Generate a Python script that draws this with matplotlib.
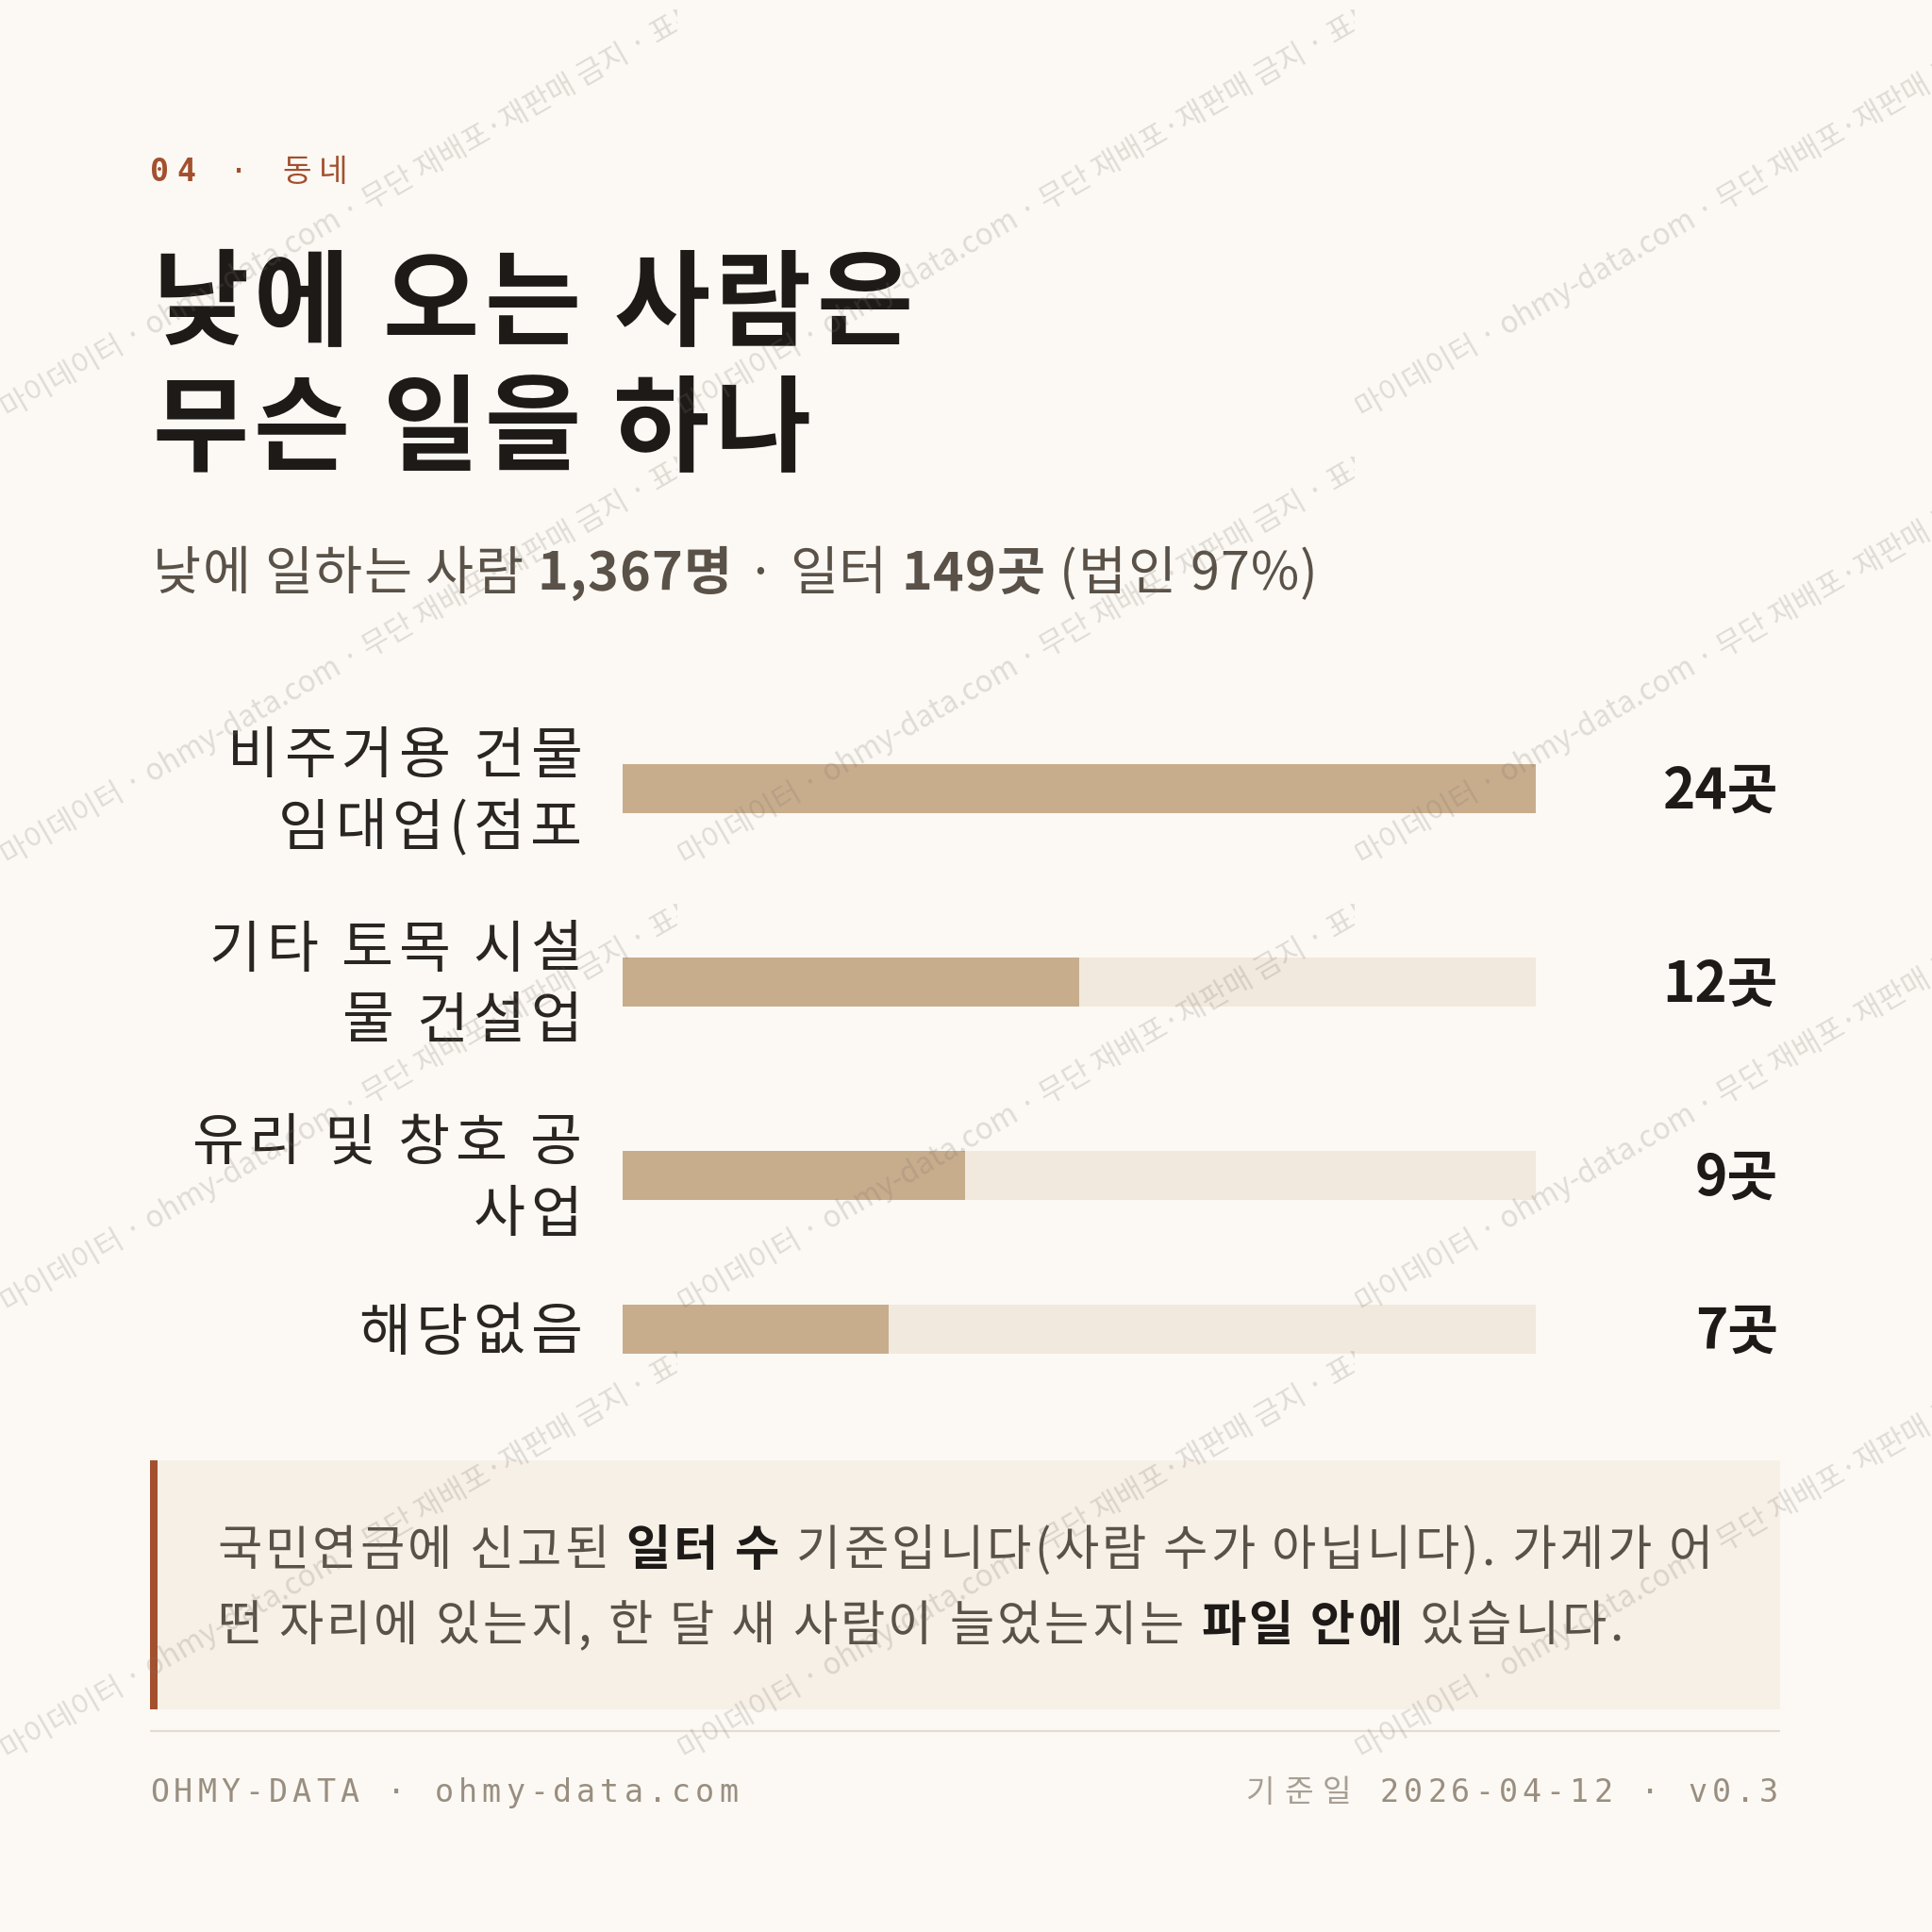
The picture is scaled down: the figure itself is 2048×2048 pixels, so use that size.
import matplotlib
matplotlib.use("Agg")
import matplotlib.pyplot as plt
from matplotlib.patches import Rectangle

# ---------------- data ----------------
categories = ["비주거용 건물\n임대업(점포", "기타 토목 시설\n물 건설업", "유리 및 창호 공\n사업", "해당없음"]
values = [24, 12, 9, 7]
unit = "곳"
kicker_num = "04"
kicker_sep = " · "
kicker_sec = "동네"
title_lines = ["낮에 오는 사람은", "무슨 일을 하나"]
subtitle_runs = [("낮에 일하는 사람 ", False), ("1,367명", True), (" · 일터 ", False),
                 ("149곳", True), (" (법인 97%)", False)]
note_lines = [[("국민연금에 신고된 ", False), ("일터 수", True),
               (" 기준입니다(사람 수가 아닙니다). 가게가 어", False)],
              [("떤 자리에 있는지, 한 달 새 사람이 늘었는지는 ", False), ("파일 안에", True),
               (" 있습니다.", False)]]
footer_left = "OHMY-DATA · ohmy-data.com"
footer_right_label = "기준일"
footer_right = " 2026-04-12 · v0.3"
watermark = "마이데이터 · ohmy-data.com · 무단 재배포·재판매 금지 · 표본"

# ---------------- style ----------------
W = H = 2048
DPI = 100
BG = "#FCF9F4"
RUST = "#A3502F"
INK = "#1E1A17"
LABEL = "#2A2520"
SUB = "#5A5248"
BAR = "#C8AD8D"
TRACK = "#F1E9DD"
NOTE_BG = "#F6F0E7"
RULE = "#E4DCCF"
FOOT = "#998E80"
SANS = ["Noto Sans CJK KR", "DejaVu Sans"]
MONO = ["DejaVu Sans Mono", "Noto Sans CJK KR"]


def em(pt):
    return pt * DPI / 72.0


fig = plt.figure(figsize=(W / DPI, H / DPI), dpi=DPI, facecolor=BG)
bg = fig.add_axes([0, 0, 1, 1])
bg.set_xlim(0, W)
bg.set_ylim(H, 0)
bg.axis("off")
bg.set_facecolor(BG)
renderer = fig.canvas.get_renderer()
_wcache = {}


def text_width(s, **kw):
    key = (s, tuple(sorted((k, str(v)) for k, v in kw.items() if k != "color")))
    if key in _wcache:
        return _wcache[key]
    t = bg.text(0, 0, "|" + s + "|", **kw)
    w1 = t.get_window_extent(renderer).width
    t.set_text("||")
    w2 = t.get_window_extent(renderer).width
    t.remove()
    _wcache[key] = w1 - w2
    return w1 - w2


def draw_runs(x, y, runs, ha="left", spacing=0.0, **common):
    """runs: list of (text, kwargs); draws char by char with extra spacing."""
    items = []
    for s, kw in runs:
        props = {**common, **kw}
        for ch in s:
            items.append((ch, props, text_width(ch, **props) + spacing))
    total = sum(w for _, _, w in items) - spacing
    cx = x - total if ha == "right" else x
    for ch, props, w in items:
        if ch != " ":
            bg.text(cx, y, ch, ha="left", va="baseline", **props)
        cx += w
    return total


LEFT = 159
RIGHT = 1887

# ---------------- kicker ----------------
draw_runs(LEFT, 192, [(kicker_num, {"family": MONO, "fontweight": "bold"}),
                      (kicker_sep, {"family": MONO}),
                      (kicker_sec, {"family": SANS})],
          spacing=8, fontsize=24, color=RUST)

# ---------------- title ----------------
T_PT = 80
for i, line in enumerate(title_lines):
    draw_runs(LEFT + 2, 357 + i * 133, [(line, {})], spacing=5, family=SANS, fontsize=T_PT,
              fontweight="bold", color=INK)

# ---------------- subtitle ----------------
S_PT = 40
draw_runs(LEFT + 3, 625, [(s, {"fontweight": "bold" if b else "normal"}) for s, b in subtitle_runs],
          spacing=1.2, family=SANS, fontsize=S_PT, color=SUB)

# ---------------- bars ----------------
L_PT = 43
text_line_h = 76
row_line_h = 84
gap = 37
centers = []
top = 733.5
for c in categories:
    n = c.count("\n") + 1
    rh = n * row_line_h + gap
    centers.append(top + rh / 2)
    top += rh

BAR_L, BAR_W = 660, 968
bax = fig.add_axes([BAR_L / W, 0, BAR_W / W, 1])
bax.set_xlim(0, max(values))
bax.set_ylim(H, 0)
bax.axis("off")
bax.patch.set_alpha(0)
bax.barh(centers, [max(values)] * len(values), height=52, color=TRACK, linewidth=0)
bax.barh(centers, values, height=52, color=BAR, linewidth=0)

for c, cy, v in zip(categories, centers, values):
    lines = c.split("\n")
    n = len(lines)
    for j, ln in enumerate(lines):
        ly = cy + (j - (n - 1) / 2) * text_line_h
        draw_runs(617, ly + 0.36 * em(L_PT), [(ln, {})], ha="right", spacing=5.5,
                  family=SANS, fontsize=L_PT, color=LABEL)
    bg.text(1885, cy + 0.36 * em(42), f"{v}{unit}", family=SANS, fontsize=42,
            fontweight="bold", color=INK, ha="right", va="baseline")

# ---------------- note box ----------------
bg.add_patch(Rectangle((LEFT, 1548), RIGHT - LEFT, 264, facecolor=NOTE_BG, edgecolor="none"))
bg.add_patch(Rectangle((LEFT, 1548), 8, 264, facecolor=RUST, edgecolor="none"))
N_PT = 37
for i, runs in enumerate(note_lines):
    draw_runs(230, 1659 + i * 80,
              [(s, {"fontweight": "bold" if b else "normal", "color": INK if b else SUB})
               for s, b in runs],
              spacing=3.2, family=SANS, fontsize=N_PT)

# ---------------- footer ----------------
bg.plot([LEFT, RIGHT], [1835, 1835], color=RULE, lw=1.6, solid_capstyle="butt")
draw_runs(LEFT, 1910, [(footer_left, {})], spacing=5, family=MONO, fontsize=24, color=FOOT)
wr = draw_runs(1885, 1910, [(footer_right, {})], ha="right", spacing=5, family=MONO,
               fontsize=24, color=FOOT)
draw_runs(1885 - wr - 5, 1910, [(footer_right_label, {})], ha="right", spacing=10,
          family=MONO, fontsize=24, color="#A89F94")

# ---------------- watermark ----------------
wm = fig.add_axes([0, 0, 1, 1])
wm.set_xlim(0, W)
wm.set_ylim(H, 0)
wm.axis("off")
wm.patch.set_alpha(0)
TW, TH = 718, 474
for x0 in [0, TW, 2 * TW]:
    for ys in [444 - TH, 444, 444 + TH, 444 + 2 * TH, 444 + 3 * TH]:
        rect = Rectangle((x0, ys - TH + 40), TW, TH, transform=wm.transData)
        t = wm.text(x0 + 8, ys, watermark, family=SANS, fontsize=22.6, color="#7A7268",
                    alpha=0.22, rotation=30, rotation_mode="anchor", ha="left",
                    va="baseline", clip_on=True)
        t.set_clip_path(rect)

fig.savefig("out.png", dpi=DPI, facecolor=BG)
